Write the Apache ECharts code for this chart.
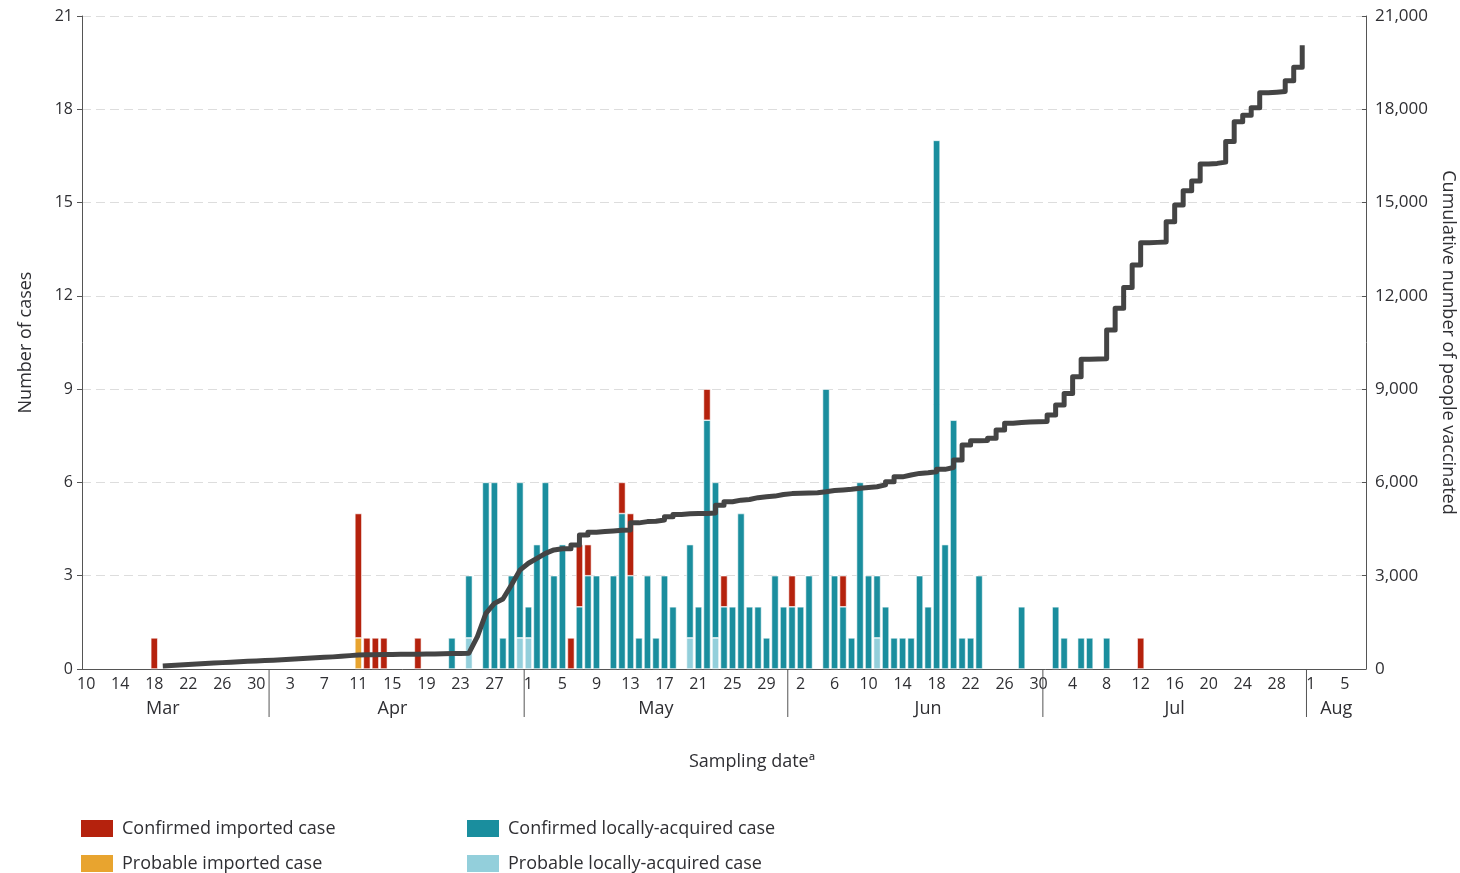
<!DOCTYPE html>
<html>
<head>
<meta charset="utf-8">
<title>Cases by sampling date and cumulative vaccinations</title>
<script src="https://cdn.jsdelivr.net/npm/echarts@6/dist/echarts.min.js"></script>
<style>
  html, body { margin: 0; padding: 0; background: #fff; }
  #chart { width: 1460px; height: 873px; }
</style>
</head>
<body>
<div id="chart"></div>
<script>
// days on the axis, month by month [name, first day, last day]
const months = [['Mar', 10, 31], ['Apr', 1, 30], ['May', 1, 31], ['Jun', 1, 30], ['Jul', 1, 31], ['Aug', 1, 7]];
// day under which each month name sits, and the first days that get a separator
const monthLabelDays = ['Mar 19', 'Apr 15', 'May 16', 'Jun 17', 'Jul 16', 'Aug 4'];
const monthStarts = ['Apr 1', 'May 1', 'Jun 1', 'Jul 1', 'Aug 1'];

// cases per sampling date [day, count]
const confirmedImported = [
  ['Mar 18', 1], ['Apr 11', 4], ['Apr 12', 1], ['Apr 13', 1], ['Apr 14', 1], ['Apr 18', 1],
  ['May 6', 1], ['May 7', 2], ['May 8', 1], ['May 12', 1], ['May 13', 2], ['May 22', 1],
  ['May 24', 1], ['Jun 1', 1], ['Jun 7', 1], ['Jul 12', 1]
];
const probableImported = [['Apr 11', 1]];
const confirmedLocal = [
  ['Apr 22', 1], ['Apr 24', 2], ['Apr 26', 6], ['Apr 27', 6], ['Apr 28', 1], ['Apr 29', 3], ['Apr 30', 5],
  ['May 1', 1], ['May 2', 4], ['May 3', 6], ['May 4', 3], ['May 5', 4], ['May 7', 2], ['May 8', 3],
  ['May 9', 3], ['May 11', 3], ['May 12', 5], ['May 13', 3], ['May 14', 1], ['May 15', 3], ['May 16', 1],
  ['May 17', 3], ['May 18', 2], ['May 20', 3], ['May 21', 2], ['May 22', 8], ['May 23', 5], ['May 24', 2],
  ['May 25', 2], ['May 26', 5], ['May 27', 2], ['May 28', 2], ['May 29', 1], ['May 30', 3], ['May 31', 2],
  ['Jun 1', 2], ['Jun 2', 2], ['Jun 3', 3], ['Jun 5', 9], ['Jun 6', 3], ['Jun 7', 2], ['Jun 8', 1],
  ['Jun 9', 6], ['Jun 10', 3], ['Jun 11', 2], ['Jun 12', 2], ['Jun 13', 1], ['Jun 14', 1], ['Jun 15', 1],
  ['Jun 16', 3], ['Jun 17', 2], ['Jun 18', 17], ['Jun 19', 4], ['Jun 20', 8], ['Jun 21', 1], ['Jun 22', 1],
  ['Jun 23', 3], ['Jun 28', 2], ['Jul 2', 2], ['Jul 3', 1], ['Jul 5', 1], ['Jul 6', 1], ['Jul 8', 1]
];
const probableLocal = [['Apr 24', 1], ['Apr 30', 1], ['May 1', 1], ['May 20', 1], ['May 23', 1], ['Jun 11', 1]];

// cumulative number of people vaccinated, one value a day from vaccStart
const vaccStart = 'Mar 19';
const vaccinated = [
  100, 115, 130, 145, 160, 175, 190, 205, 220, 235, 250, 260, 270,
  285, 300, 315, 330, 345, 360, 375, 390, 410, 430,
  450, 455, 460, 465, 470, 472, 475, 478, 480, 485,
  490, 495, 500, 510, 1040, 1790, 2110, 2250, 2700, 3180,
  3400, 3560, 3720, 3830, 3870, 3990, 4310, 4400, 4420, 4440,
  4460, 4470, 4700, 4740, 4750, 4790, 4900, 4970, 4990, 5000,
  5000, 5020, 5270, 5380, 5430, 5450, 5510, 5540, 5560, 5610, 5640,
  5650, 5660, 5670, 5700, 5740, 5760, 5780, 5810, 5840, 5860,
  5920, 6020, 6180, 6240, 6290, 6310, 6340, 6420, 6480, 6720,
  7200, 7340, 7350, 7420, 7690, 7900, 7930, 7940, 7950, 7960,
  8170, 8490, 8860, 9400, 9960, 9970, 9980, 10900, 11600, 12270,
  12990, 13710, 13720, 13730, 14380, 14920, 15380, 15690, 16240, 16260,
  16300, 16960, 17600, 17810, 18050, 18530, 18550, 18570, 18920, 19350, 20060
];
// from this day on the curve rises in steps
const stepFrom = 'May 5';

const days = [];
months.forEach(([m, first, last]) => {
  for (let d = first; d <= last; d++) days.push(m + ' ' + d);
});

function toDaily(pairs) {
  const arr = days.map(() => null);
  pairs.forEach(([d, v]) => { arr[days.indexOf(d)] = v; });
  return arr;
}

const v0 = days.indexOf(vaccStart);
const s0 = days.indexOf(stepFrom);
const vaccPoints = [];
vaccinated.forEach((v, k) => {
  const i = v0 + k;
  if (i > s0 && k > 0) vaccPoints.push([i, vaccinated[k - 1]]);
  vaccPoints.push([i, v]);
});

const textColor = '#2f2f33';
const lineColor = '#555';
const font = 'Open Sans';

function bar(name, pairs, color) {
  return {
    type: 'bar',
    name: name,
    stack: 'cases',
    barWidth: 7,
    data: toDaily(pairs),
    itemStyle: { color: color, borderColor: '#fff', borderWidth: 0.6 }
  };
}

const legendText = { fontSize: 18, lineHeight: 19, color: textColor, fontFamily: font, padding: [0, 0, 0, 3] };

const chart = echarts.init(document.getElementById('chart'));
chart.setOption({
  animation: false,
  textStyle: { fontFamily: font },
  title: {
    text: 'Sampling dateª',
    left: 684,
    top: 748,
    textStyle: { fontSize: 18, fontWeight: 'normal', color: textColor, fontFamily: font }
  },
  legend: [
    {
      left: 79, top: 818, height: 60, orient: 'vertical', padding: 0, icon: 'rect',
      itemWidth: 34, itemHeight: 19, itemGap: 14,
      data: ['Confirmed imported case', 'Probable imported case'],
      textStyle: legendText
    },
    {
      left: 465, top: 818, height: 60, orient: 'vertical', padding: 0, icon: 'rect',
      itemWidth: 34, itemHeight: 19, itemGap: 14,
      data: ['Confirmed locally-acquired case', 'Probable locally-acquired case'],
      textStyle: legendText
    }
  ],
  grid: { left: 82, top: 16, width: 1284, bottom: 204, outerBoundsMode: 'none' },
  xAxis: [
    {
      type: 'category',
      data: days,
      axisLine: { lineStyle: { color: lineColor } },
      axisTick: { interval: 1, alignWithLabel: true, length: 5, lineStyle: { color: lineColor } },
      axisLabel: {
        interval: 3, margin: 7, fontSize: 16, color: textColor,
        formatter: v => v.split(' ')[1]
      }
    },
    {
      type: 'category',
      data: days,
      position: 'bottom',
      axisLine: { show: false },
      axisTick: { show: false },
      axisLabel: {
        interval: (i, v) => monthLabelDays.indexOf(v) >= 0,
        margin: 31, fontSize: 18, color: textColor,
        formatter: v => v.split(' ')[0]
      }
    }
  ],
  yAxis: [
    {
      type: 'value', min: 0, max: 21, interval: 3,
      name: 'Number of cases', nameLocation: 'middle', nameGap: 47,
      nameTextStyle: { fontSize: 18, color: textColor },
      axisLine: { show: true, lineStyle: { color: lineColor } },
      axisTick: { show: true, length: 5, lineStyle: { color: lineColor } },
      axisLabel: { fontSize: 16, color: textColor, margin: 9 },
      splitLine: { lineStyle: { color: '#dddddd', type: [9, 5] } }
    },
    {
      type: 'value', min: 0, max: 21000, interval: 3000, position: 'right',
      name: 'Cumulative number of people vaccinated', nameLocation: 'middle', nameRotate: -90, nameGap: 72,
      nameTextStyle: { fontSize: 18, color: textColor },
      axisLine: { show: true, lineStyle: { color: lineColor } },
      axisTick: { show: true, inside: true, length: 4, lineStyle: { color: lineColor } },
      axisLabel: { fontSize: 17, color: textColor, margin: 9, formatter: v => v.toLocaleString('en-US') },
      splitLine: { show: false }
    }
  ],
  series: [
    bar('Probable locally-acquired case', probableLocal, '#93cfdb'),
    bar('Confirmed locally-acquired case', confirmedLocal, '#1a8e9e'),
    bar('Probable imported case', probableImported, '#e8a42f'),
    bar('Confirmed imported case', confirmedImported, '#b5220d'),
    {
      type: 'line',
      yAxisIndex: 1,
      data: vaccPoints,
      showSymbol: false,
      lineStyle: { color: '#444', width: 5, join: 'round' },
      z: 5
    },
    {
      // month separators below the axis, on the boundary before each first day
      type: 'custom',
      silent: true,
      clip: false,
      data: monthStarts.map(d => [d, 0]),
      renderItem: (params, api) => {
        const p = api.coord([api.value(0), 0]);
        const x = p[0] - api.size([1, 0])[0] / 2;
        return {
          type: 'line',
          shape: { x1: x, y1: p[1], x2: x, y2: p[1] + 48 },
          style: { stroke: lineColor, lineWidth: 1 }
        };
      }
    }
  ]
});
</script>
</body>
</html>
